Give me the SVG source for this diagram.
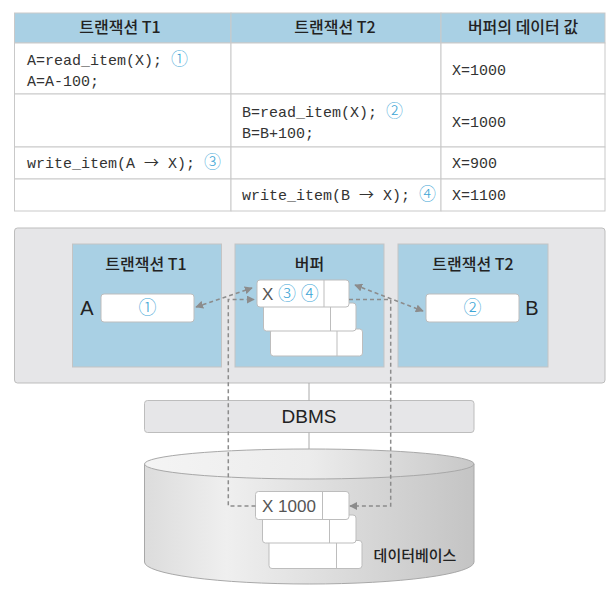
<svg xmlns="http://www.w3.org/2000/svg" width="613" height="598" viewBox="0 0 613 598">
<style>
.kr{font-family:"Noto Sans CJK KR","Noto Sans",sans-serif;fill:#222;font-weight:500}
.mono{font-family:"Liberation Mono","DejaVu Sans Mono",monospace;font-size:15px;fill:#333}
.num{fill:#3ea6d6;font-family:"Noto Sans CJK KR",sans-serif;font-weight:300}
.arr{font-family:"Noto Sans CJK KR",sans-serif}
.sans{font-family:"Liberation Sans","Noto Sans",sans-serif;fill:#222}
.cell{fill:#fff;stroke:#c9c9c9;stroke-width:1}
.hdr{fill:#a9d0e4;stroke:#c9c9c9;stroke-width:1}
.blue{fill:#a9d0e4;stroke:#c4c4c4;stroke-width:1}
.wbox{fill:#fff;stroke:#bdbdbd;stroke-width:1}
.dash{fill:none;stroke:#8c8c8c;stroke-width:1.5;stroke-dasharray:4 3}
.solid{fill:none;stroke:#aaa;stroke-width:1}
</style>
<defs>
<marker id="ah" viewBox="0 0 10 10" refX="9" refY="5" markerWidth="8" markerHeight="8" orient="auto-start-reverse" markerUnits="userSpaceOnUse">
<path d="M0,0 L10,5 L0,10 z" fill="#8c8c8c"/>
</marker>
<linearGradient id="cylBody" x1="0" y1="0" x2="1" y2="0">
<stop offset="0" stop-color="#dcdcdc"/><stop offset="0.25" stop-color="#efefef"/><stop offset="1" stop-color="#c4c4c4"/>
</linearGradient>
<linearGradient id="cylTop" x1="0" y1="0" x2="1" y2="0">
<stop offset="0" stop-color="#f4f4f4"/><stop offset="0.5" stop-color="#ececec"/><stop offset="1" stop-color="#c8c8c8"/>
</linearGradient>
</defs>

<g id="table">
<rect class="hdr" x="14.5" y="13" width="216.5" height="30"/>
<rect class="hdr" x="231" y="13" width="210" height="30"/>
<rect class="hdr" x="441" y="13" width="164" height="30"/>
<rect class="cell" x="14.5" y="43" width="216.5" height="51"/>
<rect class="cell" x="231" y="43" width="210" height="51"/>
<rect class="cell" x="441" y="43" width="164" height="51"/>
<rect class="cell" x="14.5" y="94" width="216.5" height="53"/>
<rect class="cell" x="231" y="94" width="210" height="53"/>
<rect class="cell" x="441" y="94" width="164" height="53"/>
<rect class="cell" x="14.5" y="147" width="216.5" height="32"/>
<rect class="cell" x="231" y="147" width="210" height="32"/>
<rect class="cell" x="441" y="147" width="164" height="32"/>
<rect class="cell" x="14.5" y="179" width="216.5" height="32"/>
<rect class="cell" x="231" y="179" width="210" height="32"/>
<rect class="cell" x="441" y="179" width="164" height="32"/>
<text class="kr" x="120" y="33" font-size="16" text-anchor="middle">트랜잭션 T1</text>
<text class="kr" x="335" y="33" font-size="16" text-anchor="middle">트랜잭션 T2</text>
<text class="kr" x="523" y="33" font-size="16" text-anchor="middle">버퍼의 데이터 값</text>
<text class="mono" x="27" y="65">A=read_item(X); <tspan class="num" font-size="17">①</tspan></text>
<text class="mono" x="27" y="86">A=A-100;</text>
<text class="mono" x="452" y="75">X=1000</text>
<text class="mono" x="242" y="117">B=read_item(X); <tspan class="num" font-size="17">②</tspan></text>
<text class="mono" x="242" y="138">B=B+100;</text>
<text class="mono" x="452" y="127">X=1000</text>
<text class="mono" x="27" y="168">write_item(A <tspan class="arr">→</tspan> X); <tspan class="num" font-size="17">③</tspan></text>
<text class="mono" x="452" y="168">X=900</text>
<text class="mono" x="242" y="200">write_item(B <tspan class="arr">→</tspan> X); <tspan class="num" font-size="17">④</tspan></text>
<text class="mono" x="452" y="200">X=1100</text>
</g>

<g id="memory">
<rect x="14.5" y="228" width="590.5" height="155" rx="3" fill="#e6e6e8" stroke="#bdbdbd"/>
</g>

<g id="t1">
<rect class="blue" x="72.5" y="244" width="149" height="123"/>
<text class="kr" x="146" y="270" font-size="16" text-anchor="middle">트랜잭션 T1</text>
<text class="sans" x="87" y="315" font-size="20" text-anchor="middle">A</text>
<rect class="wbox" x="101" y="294" width="93" height="28" rx="3"/>
<text class="num" x="147.5" y="314" font-size="18" text-anchor="middle">①</text>
</g>

<g id="buffer">
<rect class="blue" x="235" y="244" width="149" height="123"/>
<text class="kr" x="309.5" y="270" font-size="16" text-anchor="middle">버퍼</text>
<rect class="wbox" x="270.5" y="329" width="92" height="27" rx="3"/>
<line x1="337" y1="329" x2="337" y2="356" stroke="#bdbdbd"/>
<rect class="wbox" x="263.5" y="303" width="92.5" height="28" rx="3"/>
<line x1="330.5" y1="303" x2="330.5" y2="331" stroke="#bdbdbd"/>
<rect class="wbox" x="257" y="280" width="92" height="27" rx="3"/>
<line x1="324" y1="280" x2="324" y2="307" stroke="#bdbdbd"/>
<text class="sans" x="262" y="300" font-size="17" style="fill:#555">X <tspan class="num" font-size="18">③</tspan> <tspan class="num" font-size="18">④</tspan></text>
</g>

<g id="t2">
<rect class="blue" x="398" y="244" width="150" height="123"/>
<text class="kr" x="473" y="270" font-size="16" text-anchor="middle">트랜잭션 T2</text>
<rect class="wbox" x="426" y="294" width="93" height="28" rx="3"/>
<text class="num" x="472.5" y="314" font-size="18" text-anchor="middle">②</text>
<text class="sans" x="532" y="315" font-size="20" text-anchor="middle">B</text>
</g>

<g id="dbms">
<rect x="144.5" y="400.5" width="329.5" height="32" rx="3" fill="#e6e6e8" stroke="#bdbdbd"/>
<text class="sans" x="309" y="423" font-size="19" text-anchor="middle">DBMS</text>
</g>

<g id="database">
<path d="M144.5,464 L144.5,562 A164.75,22 0 0 0 474,562 L474,464 Z" fill="url(#cylBody)" stroke="#a8a8a8"/>
<ellipse cx="309.25" cy="464" rx="164.75" ry="15" fill="url(#cylTop)" stroke="#a8a8a8"/>
<rect class="wbox" x="269" y="540.5" width="93" height="28" rx="3"/>
<line x1="336.5" y1="540.5" x2="336.5" y2="568.5" stroke="#bdbdbd"/>
<rect class="wbox" x="262.5" y="515" width="93.5" height="28" rx="3"/>
<line x1="329.5" y1="515" x2="329.5" y2="543" stroke="#bdbdbd"/>
<rect class="wbox" x="255.5" y="491.5" width="93.5" height="28" rx="3"/>
<line x1="322.5" y1="491.5" x2="322.5" y2="519.5" stroke="#bdbdbd"/>
<text class="sans" x="289" y="512" font-size="17" text-anchor="middle" style="fill:#555">X 1000</text>
<text class="kr" x="415" y="561" font-size="15" text-anchor="middle">데이터베이스</text>
</g>

<g id="connectors">
<line class="solid" x1="309" y1="383" x2="309" y2="400.5"/>
<line class="solid" x1="309" y1="432.5" x2="309" y2="449"/>
<line class="dash" x1="196" y1="307" x2="252" y2="288" marker-start="url(#ah)" marker-end="url(#ah)"/>
<line class="dash" x1="355" y1="285" x2="423" y2="311" marker-start="url(#ah)" marker-end="url(#ah)"/>
<path class="dash" d="M255.5,506 L228.3,506 L228.3,299.5 L254,299.5" marker-end="url(#ah)"/>
<path class="dash" d="M349,299.5 L390.7,299.5 L390.7,506 L350,506" marker-end="url(#ah)"/>
</g>
</svg>
